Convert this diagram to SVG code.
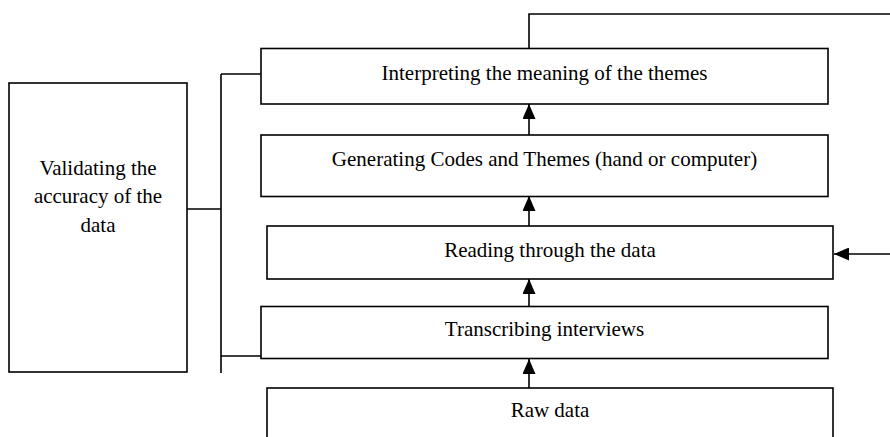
<svg xmlns="http://www.w3.org/2000/svg" width="890" height="437" viewBox="0 0 890 437">
<style>
.box{fill:#fff;stroke:#000;stroke-width:1.6}
.ln{fill:none;stroke:#000;stroke-width:1.6}
text{font-family:"Liberation Serif","Times New Roman",serif;font-size:21px;fill:#000;text-anchor:middle}
</style>
<defs>
<marker id="ah" markerWidth="15" markerHeight="13" refX="15" refY="6.5" orient="auto" markerUnits="userSpaceOnUse">
<path d="M0,0 L15,6.5 L0,13 Z" fill="#000"/>
</marker>
</defs>
<rect width="890" height="437" fill="#fff"/>
<g id="connectors">
<path class="ln" d="M221,74 H261 M221,74 V373 M187,209 H221 M221,356 H261"/>
<path class="ln" d="M529,48.5 V14 H892"/>
<line class="ln" x1="529" y1="135" x2="529" y2="104" marker-end="url(#ah)"/>
<line class="ln" x1="529" y1="226" x2="529" y2="196" marker-end="url(#ah)"/>
<line class="ln" x1="529" y1="306" x2="529" y2="279" marker-end="url(#ah)"/>
<line class="ln" x1="529" y1="388" x2="529" y2="359" marker-end="url(#ah)"/>
<line class="ln" x1="892" y1="254" x2="834" y2="254" marker-end="url(#ah)"/>
</g>
<g id="validating">
<rect class="box" x="9" y="83" width="178" height="289"/>
<text x="98" y="175">Validating the</text>
<text x="98" y="203">accuracy of the</text>
<text x="98" y="232">data</text>
</g>
<g id="interpreting">
<rect class="box" x="261" y="48.5" width="567" height="55.5"/>
<text x="544.5" y="80">Interpreting the meaning of the themes</text>
</g>
<g id="generating">
<rect class="box" x="261" y="135" width="567" height="61.5"/>
<text x="544.5" y="166">Generating Codes and Themes (hand or computer)</text>
</g>
<g id="reading">
<rect class="box" x="267" y="226" width="566" height="53"/>
<text x="550" y="257">Reading through the data</text>
</g>
<g id="transcribing">
<rect class="box" x="261" y="306.5" width="567" height="52"/>
<text x="544.5" y="336">Transcribing interviews</text>
</g>
<g id="rawdata">
<rect class="box" x="267" y="388" width="566" height="60"/>
<text x="550" y="417">Raw data</text>
</g>
</svg>
